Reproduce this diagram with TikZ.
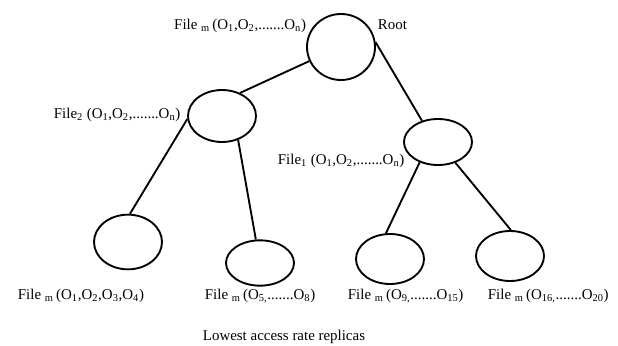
\documentclass[tikz,border=0pt]{standalone}
\usepackage{fontspec}
\setmainfont{Liberation Serif}
\usetikzlibrary{shapes.geometric}

\begin{document}
\begin{tikzpicture}[
                x=0.75pt,y=-0.75pt,
                line width=1.4pt,
                every node/.append style={inner sep=0pt,font=\fontsize{11.2}{13}\selectfont},
                rep/.style={ellipse,draw,minimum width=51pt},
                txt/.style={anchor=west}
            ]
                \useasboundingbox (0,0) rectangle (618,346);
                % replicas
                \node (R)  [rep,minimum height=49.5pt] at (341,47)  {};
                \node (F2) [rep,minimum height=39pt]   at (222,116) {};
                \node (F1) [rep,minimum height=34.5pt] at (438,142) {};
                \node (B1) [rep,minimum height=41pt]   at (128,242) {};
                \node (B2) [rep,minimum height=34pt]   at (260,263) {};
                \node (B3) [rep,minimum height=37.5pt] at (390,259) {};
                \node (B4) [rep,minimum height=37.5pt] at (510,256) {};
                % texts
                \node (tR)    [anchor=east] at (307,26) {File \textsubscript{m}\,(O\textsubscript{1},O\textsubscript{2},.......O\textsubscript{n})};
                \node (tRoot) [txt] at (377,25)  {Root};
                \node (tF2)   [txt] at (53,115)  {File\textsubscript{2} (O\textsubscript{1},O\textsubscript{2},.......O\textsubscript{n})};
                \node (tF1)   [txt] at (277,161) {File\textsubscript{1} (O\textsubscript{1},O\textsubscript{2},.......O\textsubscript{n})};
                \node (tB1)   [txt] at (17,296)  {File \textsubscript{m}\,(O\textsubscript{1},O\textsubscript{2},O\textsubscript{3},O\textsubscript{4})};
                \node (tB2)   [txt] at (204,296) {File \textsubscript{m}\,(O\textsubscript{5,}.......O\textsubscript{8})};
                \node (tB3)   [txt] at (347,296) {File \textsubscript{m}\,(O\textsubscript{9,}.......O\textsubscript{15})};
                \node (tB4)   [txt] at (487,296) {File \textsubscript{m}\,(O\textsubscript{16,}.......O\textsubscript{20})};
                \node (low)   [txt] at (202,337) {Lowest access rate replicas};
                % links
                \draw (R.204) -- (F2.52);
                \draw (R.8) -- (F1.127);
                \draw (F2.185) -- (B1.86);
                \draw (F2.304) -- (B2.100);
                \draw (F1.228) -- (B3.99);
                \draw (F1.310) -- (B4.88);
            \end{tikzpicture}
\end{document}
